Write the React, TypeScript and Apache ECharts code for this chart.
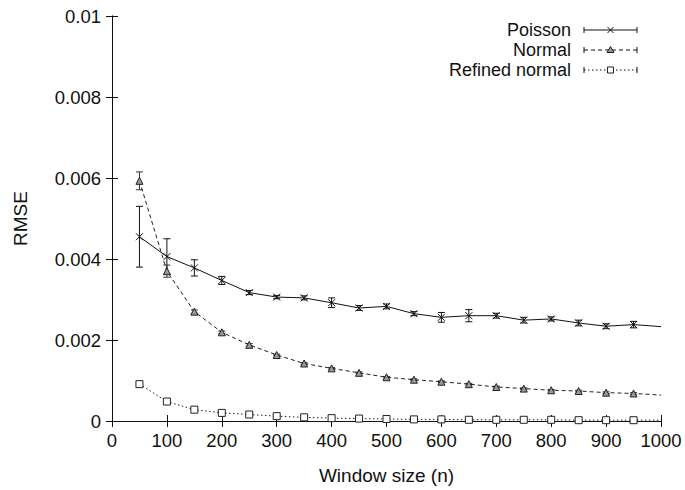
import React, { useEffect, useRef } from "react";
import * as echarts from "echarts";

const windowSizes = [50, 100, 150, 200, 250, 300, 350, 400, 450, 500, 550, 600, 650, 700, 750, 800, 850, 900, 950, 1000];
const poissonRmse = [0.00455, 0.00406, 0.00378, 0.00347, 0.00317, 0.00306, 0.00304, 0.00292, 0.00279, 0.00283, 0.00265, 0.00256, 0.0026, 0.0026, 0.00249, 0.00252, 0.00242, 0.00234, 0.00238, 0.00233];
const poissonErr = [0.00075, 0.00044, 0.0002, 0.0001, 0.00005, 0.00004, 0.00005, 0.00012, 0.00006, 0.00006, 0.00005, 0.00012, 0.00015, 0.00006, 0.00007, 0.00005, 0.00007, 0.00006, 0.00008];
const normalRmse = [0.00593, 0.0037, 0.0027, 0.00219, 0.00188, 0.00163, 0.00142, 0.0013, 0.00119, 0.00108, 0.00102, 0.00097, 0.00091, 0.00084, 0.0008, 0.00076, 0.00074, 0.0007, 0.00068, 0.00064];
const normalErr = [0.00022, 0.00015, 0.00004, 0.00003, 0.00003, 0.00002, 0.00002, 0.00002, 0.00002, 0.00002, 0.00002, 0.00002, 0.00002, 0.00002, 0.00002, 0.00002, 0.00002, 0.00002, 0.00002];
const refinedRmse = [0.00091, 0.00048, 0.00028, 0.0002, 0.00016, 0.00012, 0.00009, 0.00007, 0.00006, 0.00005, 0.00004, 0.00004, 0.00003, 0.00003, 0.00003, 0.00003, 0.00002, 0.00002, 0.00002, 0.00002];
const refinedErr = [0.00002, 0.00002, 0.00002, 0.00002, 0.00002, 0.00002, 0.00002, 0.00002, 0.00002, 0.00002, 0.00002, 0.00002, 0.00002, 0.00002, 0.00002, 0.00002, 0.00002, 0.00002, 0.00002];
const seriesNames = ["Poisson", "Normal", "Refined normal"];
const xTitle = "Window size (n)";
const yTitle = "RMSE";

const FONT = "'Liberation Sans', Arial, Helvetica, sans-serif";
const INK = "#111";
const CROSS = "path://M0 0L10 10M10 0L0 10";

function lineData(vals: number[], marked: number) {
  return windowSizes.map((x, i) =>
    i < marked ? [x, vals[i]] : { value: [x, vals[i]], symbol: "none" }
  );
}

function errData(vals: number[], errs: number[]) {
  return errs.map((e, i) => [windowSizes[i], vals[i] - e, vals[i] + e]);
}

function errorSeries(data: number[][], color: string) {
  return {
    type: "custom",
    xAxisIndex: 0,
    yAxisIndex: 0,
    z: 3,
    silent: true,
    data,
    renderItem: (params: any, api: any) => {
      const x = api.value(0);
      const top = api.coord([x, api.value(2)]);
      const bot = api.coord([x, api.value(1)]);
      const cap = 3.5;
      const style = { stroke: color, lineWidth: 1 };
      return {
        type: "group",
        children: [
          { type: "line", shape: { x1: top[0], y1: top[1], x2: bot[0], y2: bot[1] }, style },
          { type: "line", shape: { x1: top[0] - cap, y1: top[1], x2: top[0] + cap, y2: top[1] }, style },
          { type: "line", shape: { x1: bot[0] - cap, y1: bot[1], x2: bot[0] + cap, y2: bot[1] }, style },
        ],
      };
    },
  };
}

function legendEntry(i: number, y: number, dash: number[] | null, marker: any) {
  const x1 = 584;
  const x2 = 637;
  const lineStyle: any = { stroke: INK, lineWidth: 1 };
  if (dash) lineStyle.lineDash = dash;
  return [
    {
      type: "text",
      x: 571,
      y,
      style: {
        text: seriesNames[i],
        font: `18px ${FONT}`,
        lineHeight: 18,
        fill: INK,
        align: "right",
        verticalAlign: "middle",
      },
    },
    { type: "line", shape: { x1, y1: y, x2, y2: y }, style: lineStyle },
    { type: "line", shape: { x1, y1: y - 3, x2: x1, y2: y + 3 }, style: { stroke: INK, lineWidth: 1 } },
    { type: "line", shape: { x1: x2, y1: y - 3, x2, y2: y + 3 }, style: { stroke: INK, lineWidth: 1 } },
    marker,
  ];
}

export default function App() {
  const ref = useRef<HTMLDivElement>(null);
  useEffect(() => {
    if (!ref.current) return;
    document.body.style.margin = "0";
    const chart = echarts.init(ref.current, null, { renderer: "svg" });
    const mx = 610.5;
    const axisCommon = {
      type: "value",
      min: 0,
      axisLine: { show: true, lineStyle: { color: INK, width: 1 } },
      axisTick: { show: true, inside: true, length: 6, lineStyle: { color: INK } },
      splitLine: { show: false },
    };
    const y1 = 30;
    const y2 = 50;
    const y3 = 70;
    const option: any = {
      animation: false,
      backgroundColor: "#fff",
      grid: { left: 112, right: 24, top: 16, bottom: 67 },
      xAxis: [
        {
          ...axisCommon,
          position: "bottom",
          max: 1000,
          interval: 100,
          axisLabel: { color: INK, fontSize: 18.5, fontFamily: FONT, margin: 10, formatter: (v: number) => String(v) },
          name: xTitle,
          nameLocation: "middle",
          nameGap: 45,
          nameTextStyle: { color: INK, fontSize: 19, fontFamily: FONT },
        },
        {
          ...axisCommon,
          position: "top",
          max: 1000,
          interval: 100,
          axisLabel: { show: false },
        },
      ],
      yAxis: [
        {
          ...axisCommon,
          position: "left",
          max: 0.01,
          interval: 0.002,
          axisLabel: {
            color: INK,
            fontSize: 18.5,
            fontFamily: FONT,
            margin: 11,
            formatter: (v: number) => (v === 0 ? "0" : String(+v.toFixed(3))),
          },
          name: yTitle,
          nameLocation: "middle",
          nameRotate: 90,
          nameGap: 82,
          nameTextStyle: { color: INK, fontSize: 19, fontFamily: FONT },
        },
        {
          ...axisCommon,
          position: "right",
          max: 0.01,
          interval: 0.002,
          axisLabel: { show: false },
        },
      ],
      series: [
        {
          name: seriesNames[0],
          type: "line",
          xAxisIndex: 0,
          yAxisIndex: 0,
          data: lineData(poissonRmse, 19),
          symbol: CROSS,
          symbolSize: 7,
          itemStyle: { color: "none", borderColor: INK, borderWidth: 1 },
          lineStyle: { color: INK, width: 1 },
          z: 4,
        },
        {
          name: seriesNames[1],
          type: "line",
          xAxisIndex: 0,
          yAxisIndex: 0,
          data: lineData(normalRmse, 19),
          symbol: "triangle",
          symbolSize: 7,
          itemStyle: { color: "#999", borderColor: "#222", borderWidth: 1 },
          lineStyle: { color: "#222", width: 1, type: [4, 3] },
          z: 4,
        },
        {
          name: seriesNames[2],
          type: "line",
          xAxisIndex: 0,
          yAxisIndex: 0,
          data: lineData(refinedRmse, 19),
          symbol: "rect",
          symbolSize: 7,
          itemStyle: { color: "#fff", borderColor: "#222", borderWidth: 1 },
          lineStyle: { color: "#222", width: 1, type: [1.5, 2.5] },
          z: 4,
        },
        errorSeries(errData(poissonRmse, poissonErr), INK),
        errorSeries(errData(normalRmse, normalErr), "#333"),
        errorSeries(errData(refinedRmse, refinedErr), "#444"),
      ],
      graphic: [
        ...legendEntry(0, y1, null, {
          type: "group",
          children: [
            { type: "line", shape: { x1: mx - 3, y1: y1 - 3, x2: mx + 3, y2: y1 + 3 }, style: { stroke: INK, lineWidth: 1 } },
            { type: "line", shape: { x1: mx - 3, y1: y1 + 3, x2: mx + 3, y2: y1 - 3 }, style: { stroke: INK, lineWidth: 1 } },
          ],
        }),
        ...legendEntry(1, y2, [4, 3], {
          type: "polygon",
          shape: { points: [[mx, y2 - 3.5], [mx + 3.5, y2 + 2.5], [mx - 3.5, y2 + 2.5]] },
          style: { fill: "#999", stroke: "#222", lineWidth: 1 },
        }),
        ...legendEntry(2, y3, [1.5, 2.5], {
          type: "rect",
          shape: { x: mx - 3, y: y3 - 3, width: 6, height: 6 },
          style: { fill: "#fff", stroke: "#222", lineWidth: 1 },
        }),
      ],
    };
    chart.setOption(option);
    return () => chart.dispose();
  }, []);
  return <div ref={ref} style={{ width: 685, height: 490 }} />;
}
